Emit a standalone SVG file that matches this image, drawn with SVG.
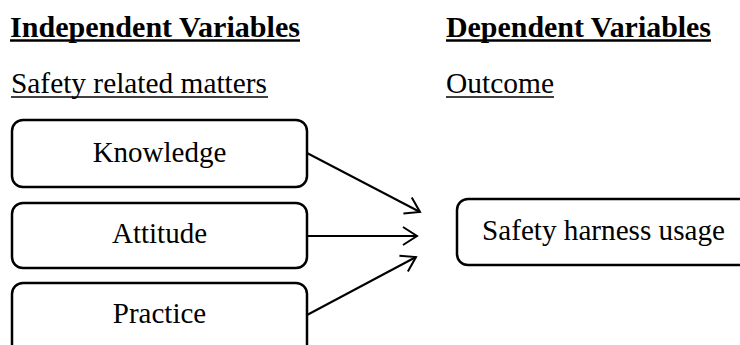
<svg xmlns="http://www.w3.org/2000/svg" width="740" height="345" viewBox="0 0 740 345">
<defs>
<style>
.t{font-family:"Liberation Serif","Times New Roman",serif;font-size:29px;fill:#000}
.b{font-weight:bold}
.box{fill:#fff;stroke:#000;stroke-width:2.5}
.ul{stroke:#000}
.c{fill:none;stroke:#000;stroke-width:2}
</style>
<marker id="ah" markerUnits="userSpaceOnUse" markerWidth="24" markerHeight="24" refX="18" refY="10" orient="auto" viewBox="0 0 24 20">
<path d="M4,1 L18,10 L4,19" fill="none" stroke="#000" stroke-width="2"/>
</marker>
</defs>
<rect width="740" height="345" fill="#fff"/>
<g id="headers">
<text class="t b" x="10" y="37" textLength="290" lengthAdjust="spacingAndGlyphs">Independent Variables</text>
<line class="ul" x1="10" y1="40.5" x2="300" y2="40.5" stroke-width="2.5"/>
<text class="t b" x="446" y="37" textLength="265" lengthAdjust="spacingAndGlyphs">Dependent Variables</text>
<line class="ul" x1="446" y1="40.5" x2="711" y2="40.5" stroke-width="2.5"/>
<text class="t" x="11" y="93" textLength="256" lengthAdjust="spacingAndGlyphs">Safety related matters</text>
<line class="ul" x1="11" y1="97" x2="268" y2="97" stroke-width="1.5"/>
<text class="t" x="446" y="93" textLength="108" lengthAdjust="spacingAndGlyphs">Outcome</text>
<line class="ul" x1="446" y1="97" x2="554" y2="97" stroke-width="1.5"/>
</g>
<g id="knowledge">
<rect class="box" x="12" y="120" width="295" height="67" rx="11"/>
<text class="t" x="159.5" y="162" text-anchor="middle">Knowledge</text>
</g>
<g id="attitude">
<rect class="box" x="12" y="203" width="295" height="65" rx="11"/>
<text class="t" x="159.5" y="243" text-anchor="middle">Attitude</text>
</g>
<g id="practice">
<rect class="box" x="12" y="283" width="295" height="80" rx="11"/>
<text class="t" x="159.5" y="323" text-anchor="middle">Practice</text>
</g>
<g id="harness">
<rect class="box" x="457" y="199" width="300" height="66" rx="11"/>
<text class="t" x="482" y="240" textLength="243" lengthAdjust="spacingAndGlyphs">Safety harness usage</text>
</g>
<g id="connectors">
<line class="c" x1="307" y1="153" x2="420" y2="212" marker-end="url(#ah)"/>
<line class="c" x1="307" y1="236" x2="417" y2="236" marker-end="url(#ah)"/>
<line class="c" x1="307" y1="315" x2="416" y2="257" marker-end="url(#ah)"/>
</g>
</svg>
